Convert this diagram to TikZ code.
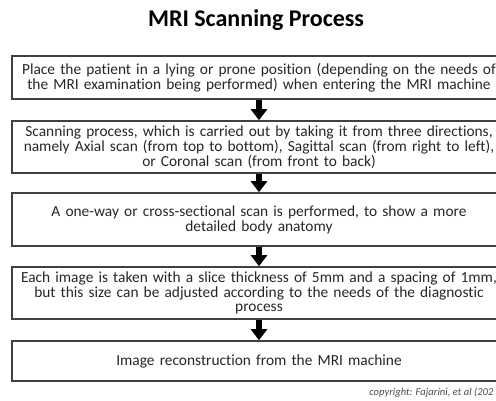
\documentclass[tikz,border=0pt]{standalone}
\usepackage{fontspec}
\setmainfont{Carlito}[Ligatures=NoCommon]
\usetikzlibrary{arrows.meta}
\begin{document}
\begin{tikzpicture}[x=1pt, y=1pt,
    stepbox/.style={draw=black!75, line width=1.6pt, text width=494pt,
      align=center, inner xsep=0pt, inner ysep=2pt,
      font=\fontsize{15.4}{14.8}\selectfont, text=black!85},
    flowarrow/.style={line width=6pt, -{Triangle[width=16pt, length=11pt]}, black}]
  \useasboundingbox (0,0) rectangle (496,-401);

  % --- Title ---
  \node[font=\fontsize{24}{28}\selectfont\bfseries] (title) at (256,-20) {MRI Scanning Process};

  % --- Steps ---
  \node[stepbox, minimum height=43pt] (patient) at (259,-77.5)
    {Place the patient in a lying or prone position (depending on the needs of\\
     the MRI examination being performed) when entering the MRI machine};
  \node[stepbox, minimum height=52pt] (scan) at (259,-147)
    {Scanning process, which is carried out by taking it from three directions,\\
     namely Axial scan (from top to bottom), Sagittal scan (from right to left),\\
     or Coronal scan (from front to back)};
  \node[stepbox, minimum height=53pt] (section) at (259,-219.5)
    {A one-way or cross-sectional scan is performed, to show a more\\
     detailed body anatomy};
  \node[stepbox, minimum height=52pt] (slice) at (259,-293)
    {Each image is taken with a slice thickness of 5mm and a spacing of 1mm,\\
     but this size can be adjusted according to the needs of the diagnostic\\
     process};
  \node[stepbox, minimum height=40pt] (recon) at (259,-361)
    {Image reconstruction from the MRI machine};

  % --- Arrows ---
  \draw[flowarrow] (patient.south) -- (scan.north);
  \draw[flowarrow] (scan.south) -- (section.north);
  \draw[flowarrow] (section.south) -- (slice.north);
  \draw[flowarrow] (slice.south) -- (recon.north);

  % --- Source ---
  \node[font=\fontsize{10.6}{12}\selectfont\itshape, text=black!70, anchor=east] (source)
    at (497,-393) {copyright: Fajarini, et al (202};
\end{tikzpicture}
\end{document}
